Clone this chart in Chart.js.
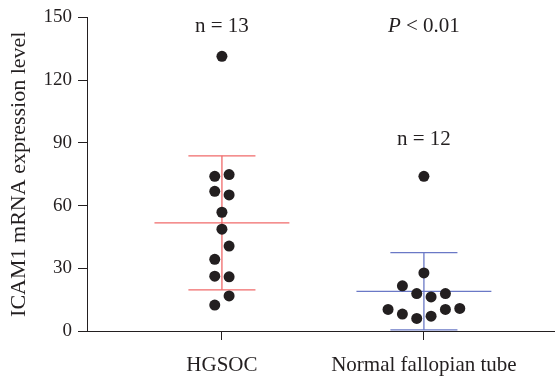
<!DOCTYPE html>
<html><head><meta charset="utf-8">
<script src="https://cdn.jsdelivr.net/npm/chart.js@4"></script>
<style>html,body{margin:0;padding:0;background:#fff}#wrap{width:555px;height:383px}</style>
</head><body><div id="wrap"><canvas id="c" width="555" height="383"></canvas></div>
<script>
const categories = ["HGSOC", "Normal fallopian tube"];
const hgsocValues  = [131.4, 74.0, 74.8, 66.8, 65.1, 56.8, 48.7, 40.6, 34.3, 26.2, 25.9, 16.8, 12.4];
const hgsocJitter  = [0, -1, 1, -1, 1, 0, 0, 1, -1, -1, 1, 1, -1];
const normalValues = [74.0, 27.8, 21.6, 17.9, 16.3, 17.9, 10.3, 8.1, 6.0, 7.1, 10.3, 10.8];
const normalJitter = [0, 0, -3, -1, 1, 3, -5, -3, -1, 1, 3, 5];
const means = [51.7, 19.0];
const sdUpper = [83.8, 37.5];
const sdLower = [19.7, 0.5];
const yTicks = [0, 30, 60, 90, 120, 150];
const annotations = [
  {cat: 0, value: 145.6, text: "n = 13"},
  {cat: 1, value: 145.6, text: "P < 0.01", italicPrefix: "P"},
  {cat: 1, value: 91.4, text: "n = 12"}
];
const summaryColors = ["#f06a6a", "#6a78c6"];

const JSTEP = 0.0355;
const MEANHALF = 0.334, CAPHALF = 0.166;
function pts(vals, jit, cat) { return vals.map((v, i) => ({x: cat + 1 + jit[i] * JSTEP, y: v})); }
function lineDs(data, color) {
  return {type: 'line', data, borderColor: color, borderWidth: 1.3, pointRadius: 0, showLine: true, fill: false, order: 2};
}
const datasets = [];
categories.forEach((c, i) => {
  const x = i + 1, col = summaryColors[i];
  datasets.push(lineDs([{x: x - MEANHALF, y: means[i]}, {x: x + MEANHALF, y: means[i]}], col));
  datasets.push(lineDs([{x: x - CAPHALF, y: sdUpper[i]}, {x: x + CAPHALF, y: sdUpper[i]}], col));
  datasets.push(lineDs([{x: x - CAPHALF, y: sdLower[i]}, {x: x + CAPHALF, y: sdLower[i]}], col));
  datasets.push(lineDs([{x: x, y: sdLower[i]}, {x: x, y: sdUpper[i]}], col));
});
datasets.push({type: 'scatter', data: pts(hgsocValues, hgsocJitter, 0), backgroundColor: '#231f20', borderWidth: 0, pointRadius: 5.5, order: 1});
datasets.push({type: 'scatter', data: pts(normalValues, normalJitter, 1), backgroundColor: '#231f20', borderWidth: 0, pointRadius: 5.5, order: 1});

const FONT = "'Liberation Serif', 'Times New Roman', serif";
const annoPlugin = {
  id: 'anno',
  afterDraw(chart) {
    const ctx = chart.ctx, xs = chart.scales.x, ys = chart.scales.y;
    ctx.save();
    ctx.fillStyle = '#231f20';
    ctx.textBaseline = 'middle';
    annotations.forEach(a => {
      const cx = xs.getPixelForValue(a.cat + 1), cy = ys.getPixelForValue(a.value);
      if (a.italicPrefix) {
        const rest = a.text.slice(a.italicPrefix.length);
        ctx.font = "italic 21px " + FONT;
        const w1 = ctx.measureText(a.italicPrefix).width;
        ctx.font = "21px " + FONT;
        const w2 = ctx.measureText(rest).width;
        let sx = cx - (w1 + w2) / 2;
        ctx.textAlign = 'left';
        ctx.font = "italic 21px " + FONT;
        ctx.fillText(a.italicPrefix, sx, cy);
        ctx.font = "21px " + FONT;
        ctx.fillText(rest, sx + w1, cy);
      } else {
        ctx.textAlign = 'center';
        ctx.font = "21px " + FONT;
        ctx.fillText(a.text, cx, cy);
      }
    });
    ctx.restore();
  }
};

new Chart(document.getElementById('c'), {
  data: {datasets},
  options: {
    responsive: false, animation: false,
    layout: {autoPadding: false, padding: {top: 16, right: 0, left: 0, bottom: 0}},
    plugins: {legend: {display: false}, tooltip: {enabled: false}},
    scales: {
      x: {
        type: 'linear', min: 0.332, max: 2.649,
        afterBuildTicks(s) { s.ticks = categories.map((c, i) => ({value: i + 1})); },
        afterFit(s) { s.height = 52; s.paddingLeft = 0; s.paddingRight = 0; },
        ticks: {callback: (v) => categories[v - 1] || '', color: '#231f20', font: {family: FONT, size: 21}, padding: 13, maxRotation: 0, autoSkip: false},
        grid: {display: true, drawOnChartArea: false, drawTicks: true, tickLength: 9, color: '#231f20', lineWidth: 1},
        border: {display: true, color: '#231f20', width: 1}
      },
      y: {
        type: 'linear', min: 0, max: 150,
        afterBuildTicks(s) { s.ticks = yTicks.map(v => ({value: v})); },
        afterFit(s) { s.width = 87; },
        ticks: {color: '#231f20', font: {family: FONT, size: 19}, padding: 6},
        grid: {display: true, drawOnChartArea: false, drawTicks: true, tickLength: 9, color: '#231f20', lineWidth: 1},
        border: {display: true, color: '#231f20', width: 1},
        title: {display: true, text: 'ICAM1 mRNA expression level', color: '#231f20', font: {family: FONT, size: 22}, padding: {top: 6, bottom: 2}}
      }
    }
  },
  plugins: [annoPlugin]
});
</script></body></html>
